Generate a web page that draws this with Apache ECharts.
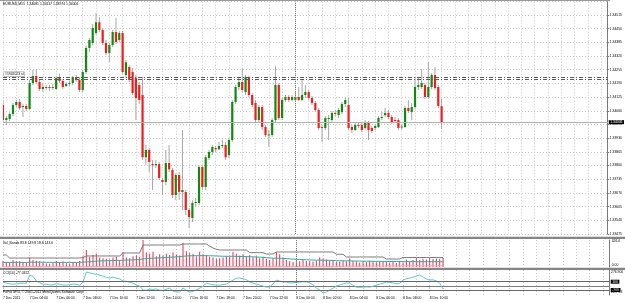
<!DOCTYPE html>
<html>
<head>
<meta charset="utf-8">
<script src="https://cdn.jsdelivr.net/npm/echarts@6.0.0/dist/echarts.min.js"></script>
<style>
  html, body { margin: 0; padding: 0; background: #fff; }
  #main { width: 625px; height: 303px; }
</style>
</head>
<body>
<div id="main"></div>
<script>
// EURUSD M15, 7-8 Dec 2011, one label every 8 bars
const timeLabels = ['7 Dec 2011', '7 Dec 04:00', '7 Dec 06:00', '7 Dec 08:00', '7 Dec 10:00', '7 Dec 12:00',
  '7 Dec 14:00', '7 Dec 16:00', '7 Dec 18:00', '7 Dec 20:00', '7 Dec 22:00', '8 Dec 00:00',
  '8 Dec 02:00', '8 Dec 04:00', '8 Dec 06:00', '8 Dec 08:00', '8 Dec 10:00']

const opens = [
  1.34087,1.34016,1.34021,1.34045,1.34087,1.34102,1.34078,1.34083,1.34068,1.34192,
  1.34225,1.34197,1.34163,1.34173,1.34168,1.34173,1.34163,1.34216,1.34201,1.34178,
  1.34187,1.34192,1.34220,1.34206,1.34159,1.34244,1.34358,1.34382,1.34429,1.34481,
  1.34444,1.34382,1.34334,1.34372,1.34434,1.34396,1.34429,1.34230,1.34268,1.34244,
  1.34216,1.34182,1.34135,1.33840,1.33874,1.33807,1.33802,1.33807,1.33731,1.33722,
  1.33812,1.33779,1.33660,1.33755,1.33674,1.33674,1.33589,1.33551,1.33622,1.33622,
  1.33793,1.33698,1.33836,1.33864,1.33883,1.33878,1.33893,1.33897,1.33850,1.33921,
  1.34102,1.34173,1.34197,1.34149,1.34220,1.34135,1.34097,1.34016,1.34078,1.33983,
  1.33945,1.33945,1.34016,1.34182,1.34026,1.34111,1.34125,1.34111,1.34111,1.34125,
  1.34111,1.34135,1.34149,1.34121,1.34097,1.34064,1.33983,1.33978,1.34021,1.34016,
  1.34049,1.34040,1.34054,1.34092,1.34087,1.33983,1.33969,1.33992,1.33992,1.33978,
  1.34002,1.33978,1.33978,1.33983,1.34026,1.34040,1.34049,1.34030,1.34016,1.34016,
  1.33983,1.33983,1.34073,1.34054,1.34078,1.34173,1.34173,1.34182,1.34125,1.34173,
  1.34230,1.34173,1.34081]
const closes = [
  1.34016,1.34026,1.34045,1.34087,1.34102,1.34073,1.34083,1.34068,1.34192,1.34225,
  1.34197,1.34163,1.34173,1.34168,1.34173,1.34168,1.34216,1.34201,1.34173,1.34187,
  1.34192,1.34220,1.34206,1.34159,1.34244,1.34358,1.34396,1.34453,1.34481,1.34444,
  1.34382,1.34334,1.34372,1.34434,1.34387,1.34429,1.34244,1.34291,1.34206,1.34144,
  1.34121,1.34111,1.33840,1.33874,1.33817,1.33802,1.33807,1.33741,1.33722,1.33812,
  1.33783,1.33660,1.33755,1.33674,1.33684,1.33589,1.33556,1.33622,1.33627,1.33793,
  1.33698,1.33840,1.33864,1.33888,1.33878,1.33893,1.33897,1.33840,1.33921,1.34102,
  1.34173,1.34197,1.34159,1.34220,1.34135,1.34087,1.34016,1.34078,1.33983,1.33945,
  1.33948,1.34016,1.34182,1.34026,1.34111,1.34125,1.34111,1.34125,1.34125,1.34111,
  1.34135,1.34149,1.34121,1.34097,1.34064,1.33978,1.33978,1.34026,1.34026,1.34049,
  1.34045,1.34064,1.34092,1.34111,1.33978,1.33969,1.33992,1.33990,1.33969,1.34002,
  1.33969,1.33964,1.33988,1.34026,1.34030,1.34049,1.34030,1.34007,1.34014,1.33978,
  1.33985,1.34073,1.34059,1.34078,1.34173,1.34182,1.34192,1.34125,1.34173,1.34230,
  1.34168,1.34083,1.34006]
const highs = [
  1.34111,1.34035,1.34054,1.34097,1.34111,1.34116,1.34092,1.34092,1.34206,1.34254,
  1.34254,1.34206,1.34187,1.34182,1.34182,1.34187,1.34225,1.34235,1.34211,1.34197,
  1.34201,1.34225,1.34230,1.34220,1.34254,1.34368,1.34406,1.34472,1.34524,1.34505,
  1.34453,1.34396,1.34382,1.34444,1.34501,1.34439,1.34439,1.34301,1.34277,1.34263,
  1.34230,1.34197,1.34220,1.33897,1.33883,1.33826,1.33826,1.33817,1.33741,1.33874,
  1.33897,1.33788,1.33764,1.33769,1.33969,1.33684,1.33598,1.33636,1.33646,1.33802,
  1.33802,1.33850,1.33874,1.33897,1.33893,1.33912,1.33921,1.33912,1.33931,1.34111,
  1.34182,1.34220,1.34263,1.34230,1.34225,1.34144,1.34111,1.34087,1.34087,1.33992,
  1.33969,1.34026,1.34273,1.34192,1.34121,1.34135,1.34135,1.34135,1.34149,1.34173,
  1.34206,1.34182,1.34159,1.34130,1.34106,1.34073,1.33992,1.34035,1.34040,1.34059,
  1.34064,1.34073,1.34102,1.34121,1.34121,1.33992,1.34002,1.34007,1.34002,1.34016,
  1.34011,1.33988,1.33997,1.34035,1.34054,1.34073,1.34064,1.34040,1.34030,1.34026,
  1.33997,1.34083,1.34111,1.34097,1.34220,1.34220,1.34258,1.34192,1.34291,1.34239,
  1.34268,1.34182,1.34117]
const lows = [
  1.34007,1.33992,1.34011,1.34035,1.34078,1.34064,1.34030,1.34059,1.34064,1.34182,
  1.34187,1.34154,1.34149,1.34159,1.34154,1.34159,1.34159,1.34192,1.34163,1.34173,
  1.34178,1.34182,1.34197,1.34149,1.34149,1.34235,1.34339,1.34372,1.34420,1.34434,
  1.34372,1.34325,1.34291,1.34363,1.34377,1.34387,1.34235,1.34216,1.34197,1.34135,
  1.34016,1.34092,1.33826,1.33802,1.33769,1.33684,1.33788,1.33731,1.33660,1.33707,
  1.33769,1.33646,1.33636,1.33636,1.33589,1.33565,1.33503,1.33532,1.33603,1.33612,
  1.33684,1.33684,1.33826,1.33850,1.33864,1.33874,1.33883,1.33826,1.33836,1.33912,
  1.34092,1.34159,1.34149,1.34135,1.34125,1.34078,1.34007,1.34007,1.33969,1.33935,
  1.33888,1.33935,1.34007,1.34016,1.34016,1.34102,1.34102,1.34106,1.34102,1.34106,
  1.34106,1.34121,1.34111,1.34087,1.34054,1.33969,1.33912,1.33969,1.33921,1.34007,
  1.34035,1.34026,1.34045,1.34078,1.33969,1.33954,1.33964,1.33978,1.33959,1.33969,
  1.33921,1.33954,1.33969,1.33978,1.34016,1.34030,1.34021,1.33997,1.34002,1.33969,
  1.33969,1.33978,1.34049,1.34016,1.34068,1.34159,1.34163,1.34116,1.34116,1.34163,
  1.34159,1.34073,1.33974]

const volumes = [
  95,80,70,110,85,90,75,70,150,110,
  100,90,70,55,50,60,95,80,85,60,
  55,75,70,95,170,270,160,190,210,150,
  140,130,120,150,165,110,235,150,140,170,
  180,160,426,230,210,240,170,200,180,210,
  190,230,200,180,383,250,220,210,170,240,
  200,190,160,150,130,140,150,170,160,240,
  210,180,200,170,190,150,170,140,160,130,
  110,140,235,200,150,110,90,80,85,90,
  110,95,90,85,100,150,130,120,100,95,
  80,85,100,90,130,95,85,70,90,80,
  100,85,75,90,80,85,70,80,65,95,
  70,120,90,110,140,110,130,120,140,125,
  135,130,143]
const upperBand = [
  190,190,142,142,142,142,142,142,142,142,
  142,142,142,142,142,142,142,142,142,142,
  142,142,142,142,150,174,174,174,174,174,
  174,174,174,174,174,174,221,221,221,221,
  221,221,347,347,347,347,347,347,347,347,
  347,347,347,347,363,363,363,363,363,363,
  363,363,330,300,280,268,268,268,268,268,
  268,268,268,268,226,226,226,226,226,205,
  205,205,237,237,237,237,237,237,237,237,
  237,237,237,237,237,237,237,237,237,237,
  200,200,200,158,158,158,158,158,158,158,
  158,158,158,158,158,126,126,126,126,126,
  150,150,150,150,150,150,150,150,150,150,
  150,150,149.8]
const maBand = [
  73,73,72,72,73,73,72,72,75,75,
  76,76,75,74,73,72,73,73,73,72,
  72,72,72,73,76,82,85,88,92,95,
  97,99,100,102,104,104,108,110,111,113,
  115,116,128,132,136,140,142,145,147,150,
  153,157,160,163,170,174,176,178,178,179,
  179,178,177,176,174,172,170,169,168,170,
  168,166,165,163,162,160,158,155,152,148,
  144,140,140,138,135,132,128,124,121,118,
  116,114,112,110,108,108,107,106,104,102,
  100,99,98,97,96,95,94,93,92,91,
  91,90,89,89,88,88,87,87,86,86,
  85,85,85,85,84,84,84,84,84,84,
  84,84,83.8]
const lowerBand = [
  4,4,4,4,4,4,4,4,6,6,
  6,6,5,5,4,4,4,4,4,4,
  4,4,4,4,5,6,6,7,8,8,
  9,9,10,10,10,10,8,8,8,8,
  8,8,5,5,5,5,5,5,5,5,
  5,5,5,5,5,5,5,5,5,5,
  5,5,6,6,7,8,8,8,8,8,
  8,8,8,8,10,10,10,10,10,12,
  12,12,10,10,10,10,10,10,10,10,
  10,10,10,10,10,10,10,10,10,10,
  12,12,12,14,14,14,14,14,14,14,
  15,15,15,15,15,16,16,16,16,16,
  18,18,18,18,18,18,18,18,18,18,
  18,18,18.8]
const cci = [
  93,70,45,40,48,60,65,62,255,230,
  120,72,40,38,22,25,50,42,18,20,
  25,45,40,15,90,334,312,290,280,255,
  235,205,190,210,185,170,115,110,90,65,
  20,-5,-100,-105,-80,-85,-75,-105,-110,-80,
  -55,-125,-145,-150,-50,-110,-155,-130,-100,-55,
  -10,65,45,25,20,15,35,40,90,140,
  185,190,170,150,95,70,40,20,-5,-30,
  -25,45,140,115,90,95,70,75,85,90,
  100,95,70,25,-50,-105,-170,-150,-105,-55,
  -10,20,45,70,65,15,-30,-35,-30,-25,
  -30,-10,20,40,65,90,85,70,50,60,
  140,170,185,210,240,260,215,165,140,145,
  120,65,-77.0322]

const cciLevels = [100, -100]
const bidPrice = 1.34006
const orderLines = [1.34220, 1.34208]
const daySeparator = '88'

const font = 'Liberation Sans, Arial, sans-serif'
const fs = 3.4
const slotCount = 183
const slots = Array.from({length: slotCount}, (_, i) => String(i))
const candles = opens.map((o, i) => [i, o, closes[i], lows[i], highs[i]])

const gridDots = {color: '#c8c8c8', width: 1, type: [1, 2]}
const frame = {show: true, lineStyle: {color: '#7a7a7a', width: 1}}
const sepLine = {xAxis: daySeparator, lineStyle: {color: '#7a7a7a', type: [1, 1], width: 1}, label: {show: false}}

const renderCandle = (params, api) => {
  const i = api.value(0)
  const o = api.value(1)
  const c = api.value(2)
  const top = api.coord([i, Math.max(o, c)])
  const bot = api.coord([i, Math.min(o, c)])
  const hi = api.coord([i, api.value(4)])
  const lo = api.coord([i, api.value(3)])
  const x = top[0]
  return {
    type: 'group',
    children: [
      {type: 'line', shape: {x1: x, y1: hi[1], x2: x, y2: lo[1]}, style: {stroke: '#a6a6a6', lineWidth: 1}},
      {type: 'rect', shape: {x: x - 1.1, y: top[1], width: 2.2, height: Math.max(bot[1] - top[1], 1)},
        style: {fill: c >= o ? '#108a10' : '#f51b1b'}}
    ]
  }
}

const txt = (text, left, top) => ({
  text, left, top, padding: 0,
  textStyle: {fontSize: fs, fontWeight: 'normal', color: '#000', fontFamily: font}
})

const xAxisFor = (gi, withLabels) => ({
  type: 'category', gridIndex: gi, data: slots, boundaryGap: false,
  axisLine: withLabels ? frame : {show: false},
  axisTick: withLabels ? {show: true, length: 1.5, interval: i => i % 8 === 0 && i <= 128, lineStyle: {color: '#7a7a7a'}} : {show: false},
  axisLabel: withLabels ? {
    show: true, fontSize: fs, color: '#000', fontFamily: font, align: 'left', margin: 2,
    interval: i => i % 8 === 0 && i <= 128,
    formatter: (v, i) => timeLabels[i / 8] || ''
  } : {show: false},
  splitLine: {show: true, interval: i => i % 4 === 0, lineStyle: gridDots}
})

const option = {
  animation: false,
  backgroundColor: '#fff',
  title: [
    txt('EURUSD,M15  1.34081 1.34117 1.33974 1.34006', 3, 2.5),
    txt('Vol_Bands 83.8 149.8 18.8 143.0', 3, 241.5),
    txt('CCI(14) -77.0322', 3, 271.5),
    txt('FoPro MT4, © 2001-2011 MetaQuotes Software Corp.', 3, 290.5),
    txt('276.900', 611, 270.5),
    txt('-397.13', 611, 291)
  ],
  grid: [
    {left: 3, right: 15.3, top: 1.7, bottom: 69},
    {left: 3, right: 15.3, top: 240, bottom: 36},
    {left: 3, right: 15.3, top: 270, bottom: 8}
  ],
  xAxis: [xAxisFor(0, false), xAxisFor(1, false), xAxisFor(2, true)],
  yAxis: [
    {
      type: 'value', gridIndex: 0, position: 'right',
      min: 1.33475, max: 1.34578, interval: 0.00065,
      axisLine: frame,
      axisTick: {show: true, length: 1.5, lineStyle: {color: '#7a7a7a'}},
      axisLabel: {fontSize: fs, color: '#000', fontFamily: font, margin: 2, showMaxLabel: false,
        formatter: v => v.toFixed(5)},
      splitLine: {show: true, lineStyle: gridDots}
    },
    {
      type: 'value', gridIndex: 1, position: 'right',
      min: 0, max: 426, interval: 426,
      axisLine: frame, axisTick: {show: false},
      axisLabel: {fontSize: fs, color: '#000', fontFamily: font, margin: 2,
        verticalAlignMaxLabel: 'top', verticalAlignMinLabel: 'bottom',
        formatter: v => v === 0 ? '0.00' : v.toFixed(1)},
      splitLine: {show: false}
    },
    {
      type: 'value', gridIndex: 2, position: 'right',
      min: -220, max: 382,
      axisLine: frame, axisTick: {show: false}, axisLabel: {show: false},
      splitLine: {show: false}
    }
  ],
  series: [
    {
      type: 'custom', name: 'EURUSD', xAxisIndex: 0, yAxisIndex: 0,
      data: candles, encode: {x: 0, y: [1, 2, 3, 4]},
      renderItem: renderCandle, clip: true, z: 3
    },
    {
      // price lines of the main window (precision 5, else they all snap to 1.34)
      type: 'line', name: 'Levels', xAxisIndex: 0, yAxisIndex: 0, data: [],
      markLine: {
        symbol: 'none', silent: true, animation: false, precision: 5,
        data: [
          {yAxis: bidPrice, lineStyle: {color: '#b0b0b0', type: 'solid', width: 1},
            label: {show: true, position: 'end', distance: 1, formatter: () => bidPrice.toFixed(5),
              color: '#fff', backgroundColor: '#000', fontSize: fs, fontFamily: font, padding: [0.5, 1.5]}},
          {yAxis: orderLines[0], lineStyle: {color: '#5a5a5a', type: [4, 2, 1, 2], width: 1},
            label: {show: true, position: 'insideStartTop', distance: 1, formatter: '#1942023 sl',
              color: '#000', backgroundColor: '#fff', borderColor: '#888', borderWidth: 0.5,
              fontSize: fs, fontFamily: font, padding: [0.5, 1]}},
          {yAxis: orderLines[1], lineStyle: {color: '#5a5a5a', type: [4, 2, 1, 2], width: 1}, label: {show: false}},
          sepLine
        ]
      }
    },
    {
      type: 'bar', name: 'Volume', xAxisIndex: 1, yAxisIndex: 1, data: volumes,
      barWidth: 1, itemStyle: {color: '#ef2e4c'},
      markLine: {symbol: 'none', silent: true, animation: false, data: [sepLine]}
    },
    {
      type: 'line', name: 'Upper', xAxisIndex: 1, yAxisIndex: 1, data: upperBand,
      symbol: 'none', lineStyle: {color: '#7c7c7c', width: 1}, z: 4
    },
    {
      type: 'line', name: 'MA', xAxisIndex: 1, yAxisIndex: 1, data: maBand,
      symbol: 'none', lineStyle: {color: '#1fb3a8', width: 1}, z: 4
    },
    {
      type: 'line', name: 'Lower', xAxisIndex: 1, yAxisIndex: 1, data: lowerBand,
      symbol: 'none', lineStyle: {color: '#f4a3b4', width: 1}, z: 4
    },
    {
      type: 'line', name: 'CCI', xAxisIndex: 2, yAxisIndex: 2, data: cci,
      symbol: 'none', lineStyle: {color: '#62c8cf', width: 1}, z: 4,
      markLine: {
        symbol: 'none', silent: true, animation: false,
        data: cciLevels.map(v => ({
          yAxis: v, lineStyle: {color: '#6a6a6a', type: 'solid', width: 1},
          label: {show: true, position: 'end', distance: 1, formatter: String(v),
            color: '#fff', backgroundColor: '#000', fontSize: fs, fontFamily: font, padding: [0.5, 1.5]}
        })).concat([sepLine])
      }
    }
  ],
  graphic: [
    {type: 'rect', shape: {x: 0, y: 0, width: 610, height: 1}, style: {fill: '#9a9a9a'}, silent: true},
    {type: 'rect', shape: {x: 0, y: 236.8, width: 625, height: 2.2}, style: {fill: '#858585'}, silent: true},
    {type: 'rect', shape: {x: 0, y: 267.8, width: 625, height: 2.2}, style: {fill: '#858585'}, silent: true}
  ]
}

const chart = echarts.init(document.getElementById('main'))
chart.setOption(option)
</script>
</body>
</html>
